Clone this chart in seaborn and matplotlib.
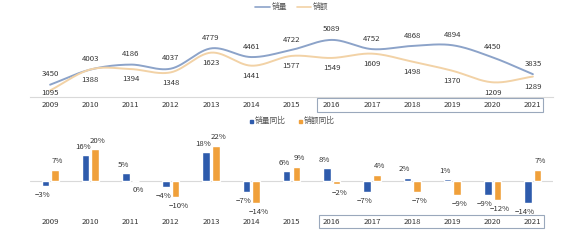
import numpy as np
import pandas as pd
import matplotlib
matplotlib.use("Agg")
import matplotlib.pyplot as plt
import matplotlib.transforms as mtrans
import seaborn as sns

years = ["2009", "2010", "2011", "2012", "2013", "2014", "2015",
         "2016", "2017", "2018", "2019", "2020", "2021"]
volume = [3450, 4003, 4186, 4037, 4779, 4461, 4722, 5089, 4752, 4868, 4894, 4450, 3835]
value = [1095, 1388, 1394, 1348, 1623, 1441, 1577, 1549, 1609, 1498, 1370, 1209, 1289]
vol_yoy = [-3, 16, 5, -4, 18, -7, 6, 8, -7, 2, 1, -9, -14]
val_yoy = [7, 20, 0, -10, 22, -14, 9, -2, 4, -7, -9, -12, 7]

sns.set_theme(style="white")
plt.rcParams["font.family"] = ["Noto Sans CJK SC", "DejaVu Sans"]
plt.rcParams["axes.unicode_minus"] = True

W, H = 580, 248
fig = plt.figure(figsize=(W / 100, H / 100), dpi=100)
fig.patch.set_facecolor("white")


def px_axes(x0, y0, x1, y1):
    return fig.add_axes([x0 / W, 1 - y1 / H, (x1 - x0) / W, (y1 - y0) / H])


C_VOL_LINE = "#8CA3C9"
C_VAL_LINE = "#F2D2A6"
C_VOL_BAR = "#2E5BAC"
C_VAL_BAR = "#F0A03A"
TXT = "#333333"
FS = 5.6


def catmull(xs, ys, n=30):
    xs = np.asarray(xs, float)
    ys = np.asarray(ys, float)
    px = np.concatenate([[2 * xs[0] - xs[1]], xs, [2 * xs[-1] - xs[-2]]])
    py = np.concatenate([[2 * ys[0] - ys[1]], ys, [2 * ys[-1] - ys[-2]]])
    ox, oy = [], []
    t = np.linspace(0, 1, n, endpoint=False)
    for i in range(1, len(px) - 2):
        f = lambda a0, a1, a2, a3: 0.5 * ((2 * a1) + (-a0 + a2) * t
                                          + (2 * a0 - 5 * a1 + 4 * a2 - a3) * t ** 2
                                          + (-a0 + 3 * a1 - 3 * a2 + a3) * t ** 3)
        ox.append(f(px[i - 1], px[i], px[i + 1], px[i + 2]))
        oy.append(f(py[i - 1], py[i], py[i + 1], py[i + 2]))
    ox.append([xs[-1]])
    oy.append([ys[-1]])
    return np.concatenate(ox), np.concatenate(oy)


idx = np.arange(len(years))

# ---------------- top panel ----------------
ax1 = px_axes(30, 15, 553, 97)
ax2 = ax1.twinx()
for a in (ax1, ax2):
    a.set_xlim(-0.5, 12.5)
    a.set_facecolor("none")
    for s in a.spines.values():
        s.set_visible(False)
    a.set_yticks([])
    a.set_xticks([])
    a.grid(False)
ax1.set_ylim(3000, 6000)
ax2.set_ylim(1004, 2148)
ax1.spines["bottom"].set_visible(True)
ax1.spines["bottom"].set_color("#D9D9D9")
ax1.spines["bottom"].set_linewidth(0.8)

sx, sy = catmull(idx, volume)
sns.lineplot(x=sx, y=sy, ax=ax1, color=C_VOL_LINE, lw=1.4, sort=False, legend=False)
sx2, sy2 = catmull(idx, value)
sns.lineplot(x=sx2, y=sy2, ax=ax2, color=C_VAL_LINE, lw=1.4, sort=False, legend=False)

for i, v in enumerate(volume):
    ax1.annotate(str(v), (i, v), xytext=(0, 7.5), textcoords="offset points",
                 ha="center", va="center", fontsize=FS, color=TXT)
for i, v in enumerate(value):
    off = -7.5 if v > 1150 else -1.5
    ax2.annotate(str(v), (i, v), xytext=(0, off), textcoords="offset points",
                 ha="center", va="center", fontsize=FS, color=TXT)

tr1 = mtrans.blended_transform_factory(ax1.transData, fig.transFigure)
for i, y in enumerate(years):
    ax1.text(i, 1 - 105 / H, y, transform=tr1, ha="center", va="center",
             fontsize=FS, color=TXT)

# top legend
fig.add_artist(plt.Line2D([255 / W, 270 / W], [1 - 7 / H] * 2, color=C_VOL_LINE, lw=1.2))
fig.text(272 / W, 1 - 7 / H, "销量", fontsize=FS, color="#555555", va="center")
fig.add_artist(plt.Line2D([297 / W, 311 / W], [1 - 7 / H] * 2, color=C_VAL_LINE, lw=1.2))
fig.text(313 / W, 1 - 7 / H, "销额", fontsize=FS, color="#555555", va="center")

# box around 2016-2021
fig.add_artist(plt.Rectangle((317 / W, 1 - 112 / H), 226 / W, 14 / H, fill=False,
                             ec="#9AA8BC", lw=0.8))

# ---------------- bottom panel ----------------
ax3 = px_axes(30, 133, 553, 213)
df = pd.DataFrame({
    "year": years * 2,
    "pct": vol_yoy + val_yoy,
    "series": ["销量同比"] * len(years) + ["销额同比"] * len(years),
})
sns.barplot(data=df, x="year", y="pct", hue="series", ax=ax3,
            palette=[C_VOL_BAR, C_VAL_BAR], width=0.48, gap=0.22, dodge=True,
            legend=False, saturation=1)
ax3.set_xlim(-0.5, 12.5)
ax3.set_ylim(-20, 30)
ax3.set_facecolor("none")
for s in ax3.spines.values():
    s.set_visible(False)
ax3.set_xticks([])
ax3.set_yticks([])
ax3.set_xlabel("")
ax3.set_ylabel("")
ax3.grid(False)
ax3.axhline(0, color="#D9D9D9", lw=0.8, zorder=0)

for k, cont in enumerate(ax3.containers):
    for bar in cont:
        h = bar.get_height()
        xc = bar.get_x() + bar.get_width() / 2
        lab = f"{int(round(h))}%".replace("-", "−")
        dx = -2.0 if k == 0 else 2.0
        ax3.annotate(lab, (xc, h), xytext=(dx, 6 if h > 0 else -6.5),
                     textcoords="offset points", ha="center", va="center",
                     fontsize=FS, color=TXT)

tr3 = mtrans.blended_transform_factory(ax3.transData, fig.transFigure)
for i, y in enumerate(years):
    ax3.text(i, 1 - 222 / H, y, transform=tr3, ha="center", va="center",
             fontsize=FS, color=TXT)

fig.add_artist(plt.Rectangle((319 / W, 1 - 228 / H), 225 / W, 13 / H, fill=False,
                             ec="#9AA8BC", lw=0.8))

# bottom legend
fig.add_artist(plt.Rectangle((250 / W, 1 - 123 / H), 3 / W, 3 / H, color=C_VOL_BAR))
fig.text(255 / W, 1 - 121 / H, "销量同比", fontsize=FS, color="#555555", va="center")
fig.add_artist(plt.Rectangle((299 / W, 1 - 123 / H), 3 / W, 3 / H, color=C_VAL_BAR))
fig.text(304 / W, 1 - 121 / H, "销额同比", fontsize=FS, color="#555555", va="center")

fig.savefig("out.png", dpi=100, facecolor="white")
